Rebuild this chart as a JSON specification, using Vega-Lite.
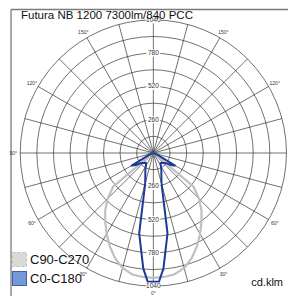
{
  "$schema": "https://vega.github.io/schema/vega-lite/v6.json",
  "width": 278,
  "height": 287,
  "autosize": {"type": "none"},
  "padding": {"left": 10, "top": 9, "right": 0, "bottom": 0},
  "background": "white",
  "config": {
    "view": {"stroke": null},
    "font": "Liberation Sans"
  },
  "datasets": {
    "frame": [{"edge": "left"}, {"edge": "top"}],
    "circles": [{"r": 130}, {"r": 260}, {"r": 390}, {"r": 520}, {"r": 650}, {"r": 780}, {"r": 910}, {"r": 1040}],
    "spokes": [{"a": 0}, {"a": 15}, {"a": 30}, {"a": 45}, {"a": 60}, {"a": 75}, {"a": 90}, {"a": 105}, {"a": 120}, {"a": 135}, {"a": 150}, {"a": 165}],
    "curves": [
      {"plane": "C90-C270", "gamma": -90, "cd": 0},
      {"plane": "C90-C270", "gamma": -60, "cd": 0},
      {"plane": "C90-C270", "gamma": -55, "cd": 20},
      {"plane": "C90-C270", "gamma": -50, "cd": 410},
      {"plane": "C90-C270", "gamma": -45, "cd": 505},
      {"plane": "C90-C270", "gamma": -40, "cd": 585},
      {"plane": "C90-C270", "gamma": -35, "cd": 655},
      {"plane": "C90-C270", "gamma": -30, "cd": 730},
      {"plane": "C90-C270", "gamma": -25, "cd": 805},
      {"plane": "C90-C270", "gamma": -20, "cd": 875},
      {"plane": "C90-C270", "gamma": -15, "cd": 930},
      {"plane": "C90-C270", "gamma": -10, "cd": 962},
      {"plane": "C90-C270", "gamma": -5, "cd": 972},
      {"plane": "C90-C270", "gamma": 0, "cd": 975},
      {"plane": "C90-C270", "gamma": 5, "cd": 972},
      {"plane": "C90-C270", "gamma": 10, "cd": 962},
      {"plane": "C90-C270", "gamma": 15, "cd": 930},
      {"plane": "C90-C270", "gamma": 20, "cd": 875},
      {"plane": "C90-C270", "gamma": 25, "cd": 805},
      {"plane": "C90-C270", "gamma": 30, "cd": 730},
      {"plane": "C90-C270", "gamma": 35, "cd": 655},
      {"plane": "C90-C270", "gamma": 40, "cd": 585},
      {"plane": "C90-C270", "gamma": 45, "cd": 505},
      {"plane": "C90-C270", "gamma": 50, "cd": 410},
      {"plane": "C90-C270", "gamma": 55, "cd": 20},
      {"plane": "C90-C270", "gamma": 60, "cd": 0},
      {"plane": "C90-C270", "gamma": 90, "cd": 0},
      {"plane": "C0-C180", "gamma": -90, "cd": 0},
      {"plane": "C0-C180", "gamma": -70, "cd": 0},
      {"plane": "C0-C180", "gamma": -65, "cd": 40},
      {"plane": "C0-C180", "gamma": -60, "cd": 200},
      {"plane": "C0-C180", "gamma": -55, "cd": 160},
      {"plane": "C0-C180", "gamma": -50, "cd": 120},
      {"plane": "C0-C180", "gamma": -45, "cd": 110},
      {"plane": "C0-C180", "gamma": -40, "cd": 100},
      {"plane": "C0-C180", "gamma": -35, "cd": 97},
      {"plane": "C0-C180", "gamma": -30, "cd": 117},
      {"plane": "C0-C180", "gamma": -25, "cd": 148},
      {"plane": "C0-C180", "gamma": -20, "cd": 183},
      {"plane": "C0-C180", "gamma": -15, "cd": 246},
      {"plane": "C0-C180", "gamma": -10, "cd": 637},
      {"plane": "C0-C180", "gamma": -5, "cd": 905},
      {"plane": "C0-C180", "gamma": -2.5, "cd": 1007},
      {"plane": "C0-C180", "gamma": 0, "cd": 1005},
      {"plane": "C0-C180", "gamma": 2.5, "cd": 1007},
      {"plane": "C0-C180", "gamma": 5, "cd": 905},
      {"plane": "C0-C180", "gamma": 10, "cd": 637},
      {"plane": "C0-C180", "gamma": 15, "cd": 246},
      {"plane": "C0-C180", "gamma": 20, "cd": 183},
      {"plane": "C0-C180", "gamma": 25, "cd": 148},
      {"plane": "C0-C180", "gamma": 30, "cd": 117},
      {"plane": "C0-C180", "gamma": 35, "cd": 97},
      {"plane": "C0-C180", "gamma": 40, "cd": 100},
      {"plane": "C0-C180", "gamma": 45, "cd": 110},
      {"plane": "C0-C180", "gamma": 50, "cd": 120},
      {"plane": "C0-C180", "gamma": 55, "cd": 160},
      {"plane": "C0-C180", "gamma": 60, "cd": 200},
      {"plane": "C0-C180", "gamma": 65, "cd": 40},
      {"plane": "C0-C180", "gamma": 70, "cd": 0},
      {"plane": "C0-C180", "gamma": 90, "cd": 0}
    ],
    "valueLabels": [
      {"v": 260, "side": 1}, {"v": 520, "side": 1}, {"v": 780, "side": 1}, {"v": 1040, "side": 1},
      {"v": 260, "side": -1}, {"v": 520, "side": -1}, {"v": 780, "side": -1}, {"v": 1040, "side": -1}
    ],
    "angleLabels": [
      {"a": 0, "t": "0°"},
      {"a": -30, "t": "30°"}, {"a": 30, "t": "30°"},
      {"a": -60, "t": "60°"}, {"a": 60, "t": "60°"},
      {"a": -90, "t": "90°"},
      {"a": -120, "t": "120°"}, {"a": 120, "t": "120°"},
      {"a": -150, "t": "150°"}, {"a": 150, "t": "150°"}
    ],
    "notes": [
      {"t": "Futura NB 1200 7300lm/840 PCC", "kind": "title"},
      {"t": "cd.klm", "kind": "unit"}
    ]
  },
  "layer": [
    {
      "data": {"name": "frame"},
      "transform": [
        {"calculate": "datum.edge === 'left' ? -1112 : -1112", "as": "fx"},
        {"calculate": "datum.edge === 'left' ? -1112 : 1060", "as": "fx2"},
        {"calculate": "datum.edge === 'left' ? 1121 : 1121", "as": "fy"},
        {"calculate": "datum.edge === 'left' ? -1117 : 1121", "as": "fy2"}
      ],
      "mark": {"type": "rule", "stroke": "#7a7a7a", "strokeWidth": 1.3, "opacity": 1},
      "encoding": {
        "x": {"field": "fx", "type": "quantitative", "scale": {"domain": [-1120, 1052], "nice": false, "zero": false}, "axis": null},
        "x2": {"field": "fx2"},
        "y": {"field": "fy", "type": "quantitative", "scale": {"domain": [-1117, 1125], "nice": false, "zero": false}, "axis": null},
        "y2": {"field": "fy2"}
      }
    },
    {
      "data": {"name": "circles"},
      "mark": {"type": "point", "shape": "circle", "filled": false, "stroke": "#333", "strokeWidth": 0.7, "opacity": 1},
      "encoding": {
        "x": {"datum": 0, "type": "quantitative"},
        "y": {"datum": 0, "type": "quantitative"},
        "size": {"field": "r", "type": "quantitative", "scale": {"type": "pow", "exponent": 2, "domain": [0, 1040], "range": [0, 70884]}, "legend": null}
      }
    },
    {
      "data": {"name": "spokes"},
      "transform": [
        {"calculate": "1040*sin(datum.a*PI/180)", "as": "x"},
        {"calculate": "1040*cos(datum.a*PI/180)", "as": "y"},
        {"calculate": "-datum.x", "as": "x2"},
        {"calculate": "-datum.y", "as": "y2"}
      ],
      "mark": {"type": "rule", "stroke": "#333", "strokeWidth": 0.7},
      "encoding": {
        "x": {"field": "x", "type": "quantitative"},
        "y": {"field": "y", "type": "quantitative"},
        "x2": {"field": "x2"},
        "y2": {"field": "y2"}
      }
    },
    {
      "data": {"name": "curves"},
      "transform": [
        {"filter": "datum.plane === 'C90-C270'"},
        {"calculate": "datum.cd*sin(datum.gamma*PI/180)", "as": "px"},
        {"calculate": "-datum.cd*cos(datum.gamma*PI/180)", "as": "py"}
      ],
      "mark": {"type": "line", "strokeWidth": 2.2},
      "encoding": {
        "x": {"field": "px", "type": "quantitative"},
        "y": {"field": "py", "type": "quantitative"},
        "order": {"field": "gamma", "type": "quantitative"},
        "stroke": {
          "field": "plane", "type": "nominal",
          "scale": {"domain": ["C90-C270", "C0-C180"], "range": ["#c0c0c0", "#1c3a96"]},
          "legend": {
            "title": null,
            "orient": "none",
            "legendX": 2,
            "legendY": 243,
            "symbolType": "square",
            "symbolSize": 196,
            "symbolStrokeWidth": 1,
            "labelFontSize": 13,
            "labelFont": "Liberation Sans",
            "labelColor": "#111",
            "labelOffset": 3,
            "rowPadding": 0,
            "padding": 0,
            "encode": {
              "symbols": {
                "update": {
                  "fill": {"signal": "datum.value === 'C0-C180' ? '#7399d9' : '#d9d9d9'"},
                  "fillOpacity": {"value": 1},
                  "stroke": {"signal": "datum.value === 'C0-C180' ? '#1c3a96' : '#b0b0b0'"},
                  "strokeDash": {"signal": "datum.value === 'C0-C180' ? [1,0] : [3,2]"}
                }
              }
            }
          }
        }
      }
    },
    {
      "data": {"name": "curves"},
      "transform": [
        {"filter": "datum.plane === 'C0-C180'"},
        {"calculate": "datum.cd*sin(datum.gamma*PI/180)", "as": "px"},
        {"calculate": "-datum.cd*cos(datum.gamma*PI/180)", "as": "py"}
      ],
      "mark": {"type": "line", "strokeWidth": 2},
      "encoding": {
        "x": {"field": "px", "type": "quantitative"},
        "y": {"field": "py", "type": "quantitative"},
        "order": {"field": "gamma", "type": "quantitative"},
        "stroke": {"field": "plane", "type": "nominal"}
      }
    },
    {
      "data": {"name": "valueLabels"},
      "transform": [{"calculate": "datum.v*datum.side", "as": "vy"}],
      "mark": {"type": "point", "shape": "M-1,-0.5H1V0.5H-1Z", "filled": true, "fill": "white", "opacity": 1, "size": 196, "strokeWidth": 0},
      "encoding": {
        "x": {"datum": 0, "type": "quantitative"},
        "y": {"field": "vy", "type": "quantitative"}
      }
    },
    {
      "data": {"name": "valueLabels"},
      "transform": [{"calculate": "datum.v*datum.side", "as": "vy"}],
      "mark": {"type": "text", "fontSize": 6.5, "color": "#333", "align": "center", "baseline": "middle"},
      "encoding": {
        "x": {"datum": 0, "type": "quantitative"},
        "y": {"field": "vy", "type": "quantitative"},
        "text": {"field": "v", "type": "nominal"}
      }
    },
    {
      "data": {"name": "angleLabels"},
      "transform": [
        {"calculate": "1095*sin(datum.a*PI/180)", "as": "lx"},
        {"calculate": "-1095*cos(datum.a*PI/180)", "as": "ly"}
      ],
      "mark": {"type": "text", "fontSize": 5, "color": "#333", "align": "center", "baseline": "middle"},
      "encoding": {
        "x": {"field": "lx", "type": "quantitative"},
        "y": {"field": "ly", "type": "quantitative"},
        "text": {"field": "t", "type": "nominal"}
      }
    },
    {
      "data": {"name": "notes"},
      "transform": [{"filter": "datum.kind === 'title'"}],
      "mark": {"type": "text", "fontSize": 11.5, "color": "#111", "align": "left", "baseline": "alphabetic"},
      "encoding": {
        "x": {"datum": -1034, "type": "quantitative"},
        "y": {"datum": 1047, "type": "quantitative"},
        "text": {"field": "t", "type": "nominal"}
      }
    },
    {
      "data": {"name": "notes"},
      "transform": [{"filter": "datum.kind === 'unit'"}],
      "mark": {"type": "text", "fontSize": 11, "color": "#111", "align": "right", "baseline": "middle"},
      "encoding": {
        "x": {"datum": 1013, "type": "quantitative"},
        "y": {"datum": -1016, "type": "quantitative"},
        "text": {"field": "t", "type": "nominal"}
      }
    }
  ]
}
